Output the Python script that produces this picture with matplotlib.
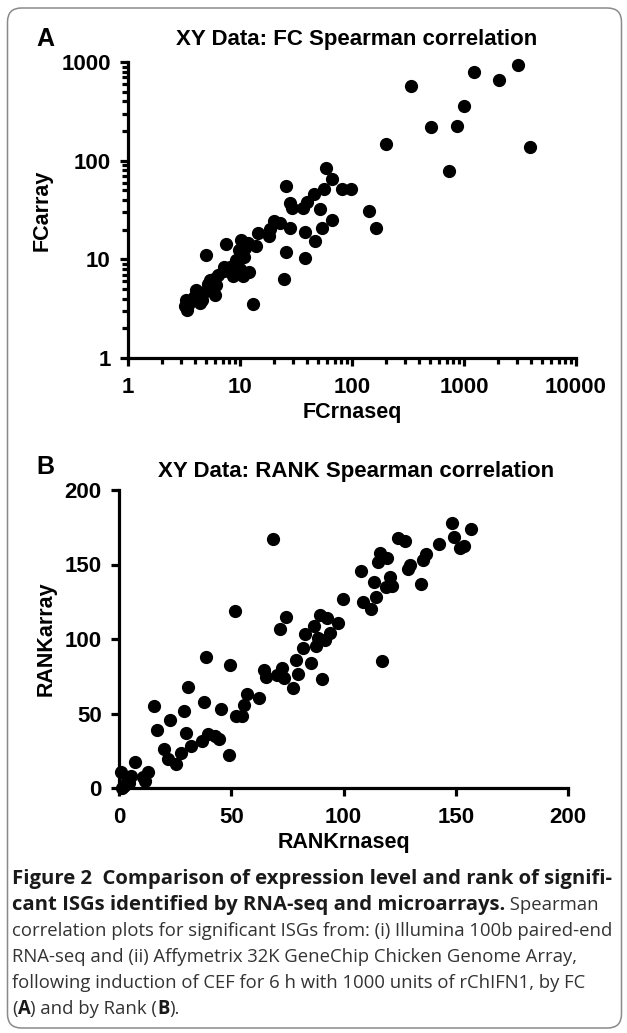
import matplotlib
matplotlib.use('Agg')
import matplotlib.pyplot as plt
from matplotlib.patches import FancyBboxPatch
from matplotlib.ticker import LogLocator, NullFormatter, FixedLocator

# ---------------- data ----------------
fc_rnaseq = [3035, 1228, 2061, 335, 1000, 510, 869, 201, 3919, 731, 141, 165, 81, 97,
             59, 65.8, 56, 46, 39.5, 36.7, 51.8, 65.8, 54.4, 37.9, 46.9, 37.9, 26, 28.2,
             29.1, 28.2, 22.8, 20.3, 18.4, 18, 14.6, 26, 24.5, 13, 7.56, 4.93, 10.3, 13.9,
             11.8, 9.7, 11.1, 10.8, 9.2, 10, 12, 10.7, 8.7, 7.2, 7.2, 6.36, 5.86, 5.4, 6.1,
             5.18, 6.0, 4.97, 4.05, 4.3, 4.57, 3.67, 4.38, 3.32, 3.21, 3.38, 3.4, 3.85, 9.3, 8.1]
fc_array = [940, 792, 662, 567, 356, 220, 223, 146, 136, 78, 30.6, 20.6, 51.6, 51.6,
            85, 65, 52, 45.9, 38.4, 32.9, 32.3, 25, 21, 19.1, 15.5, 10.4, 56, 36.9,
            32.9, 20.6, 23.5, 24.6, 20.2, 17.3, 18.4, 12, 6.3, 3.54, 14.3, 11, 15.7, 13.5,
            14.5, 12.5, 13, 10.6, 9.1, 7.94, 7.4, 6.7, 6.7, 7.7, 8.4, 6.96, 6.3, 6.2, 5.5,
            5.6, 4.37, 4.83, 4.9, 4.2, 3.89, 3.74, 3.61, 3.89, 3.33, 3.1, 3.46, 4.2, 9.8, 8.4]

rank_rnaseq = [148.3, 156.7, 149.4, 153.7, 151.9, 142.4, 124.2, 127.5, 136.7, 135.5, 129.6,
               128.7, 134.6, 116.2, 119.2, 115.3, 120.7, 118.9, 121.6, 113.5, 107.7, 114.4,
               108.7, 112.3, 99.6, 117.3, 97.5, 89.5, 92.7, 93.9, 91.6, 88.6, 86.8, 87.7,
               82.7, 81.8, 78.8, 85.5, 79.7, 77.6, 90.4, 74.3, 71.6, 68.6, 72.5, 73.4, 70.4,
               64.5, 65.4, 62.4, 56.9, 55.6, 54.7, 52.0, 51.7, 49.6, 45.5, 44.6, 42.8, 39.6,
               38.7, 37.8, 36.9, 48.8, 30.6, 28.9, 29.8, 31.9, 27.6, 25.6, 22.6, 20.0, 21.7,
               16.8, 15.7, 12.8, 11.4, 10.7, 7.1, 5.3, 3.6, 2.1, 0.7, 1.2, 4.3]
rank_array = [178, 173.6, 168.7, 162.5, 160.9, 163.8, 168, 166, 156.9, 153, 149.7,
              146.8, 137, 158, 154.2, 152, 141.9, 135.2, 135.6, 138.5, 145.9, 128,
              125.1, 120, 126.9, 84.9, 111, 116.2, 114, 103.9, 99, 100.6, 109, 95,
              103.5, 93.9, 86, 84.2, 76.6, 67, 73, 115, 106.8, 167, 80.4, 73.7, 76,
              79.3, 74.4, 60.1, 63.2, 55.9, 48, 48.5, 119.1, 82.7, 53, 32.8, 34.6, 36.4,
              87.8, 57.9, 31.7, 21.9, 67.7, 51.8, 36.9, 28.4, 23.5, 16.3, 45.8, 26.1, 19.7,
              39.1, 54.7, 10.5, 4.5, 7.4, 17.2, 7.8, 4.5, 1.1, 10.7, 0, 3.4]

ticks_A_x = [1, 10, 100, 1000, 10000]
ticks_A_y = [1, 10, 100, 1000]
ticks_B = [0, 50, 100, 150, 200]

title_A = "XY Data: FC Spearman correlation"
title_B = "XY Data: RANK Spearman correlation"

# ---------------- figure ----------------
W, H = 627, 1033
fig = plt.figure(figsize=(W / 100, H / 100), dpi=100)

def fx(px):
    return px / W

def fy(py):
    return 1 - py / H

bold_font = 'Liberation Sans'
LW = 2.3

# border
border = FancyBboxPatch((0.075, 0.05), 6.14, 10.20,
                        boxstyle="round,pad=0,rounding_size=0.14",
                        transform=fig.dpi_scale_trans, fill=False,
                        edgecolor='#8a8a8a', linewidth=1.1)
fig.patches.append(border)


def style_axes(ax):
    for s in ['top', 'right']:
        ax.spines[s].set_visible(False)
    for s in ['left', 'bottom']:
        ax.spines[s].set_linewidth(LW)
        ax.spines[s].set_capstyle('projecting')
    ax.tick_params(which='major', direction='out', length=5.5, width=LW,
                   labelsize=16)
    ax.tick_params(axis='x', which='major', pad=8)
    ax.tick_params(axis='y', which='major', pad=7)
    ax.tick_params(which='minor', direction='out', length=4.5, width=LW)
    for lab in ax.get_xticklabels() + ax.get_yticklabels():
        lab.set_fontfamily(bold_font)
        lab.set_fontweight('bold')


# ---- Panel A ----
axA = fig.add_axes([fx(128), fy(358), fx(576) - fx(128), fy(62) - fy(358)])
axA.set_xscale('log')
axA.set_yscale('log')
axA.set_xlim(1, 10000)
axA.set_ylim(1, 1000)
axA.plot(fc_rnaseq, fc_array, 'o', color='black', markersize=8.5, clip_on=False)
axA.xaxis.set_major_locator(FixedLocator(ticks_A_x))
axA.yaxis.set_major_locator(FixedLocator(ticks_A_y))
axA.set_xticklabels([str(t) for t in ticks_A_x])
axA.set_yticklabels([str(t) for t in ticks_A_y])
axA.xaxis.set_minor_locator(LogLocator(base=10, subs=range(2, 10), numticks=20))
axA.yaxis.set_minor_locator(LogLocator(base=10, subs=range(2, 10), numticks=20))
axA.xaxis.set_minor_formatter(NullFormatter())
axA.yaxis.set_minor_formatter(NullFormatter())
style_axes(axA)
axA.set_xlabel('FCrnaseq', fontfamily=bold_font, fontweight='bold', fontsize=15.5, labelpad=3)
axA.set_ylabel('FCarray', fontfamily=bold_font, fontweight='bold', fontsize=15.5, labelpad=6)

fig.text(fx(357), fy(39), title_A, ha='center', va='center',
         fontfamily=bold_font, fontweight='bold', fontsize=16)
fig.text(fx(36), fy(39), 'A', ha='left', va='center',
         fontfamily=bold_font, fontweight='bold', fontsize=18)

# ---- Panel B ----
axB = fig.add_axes([fx(119), fy(788), fx(568) - fx(119), fy(490) - fy(788)])
axB.set_xlim(0, 200)
axB.set_ylim(0, 200)
axB.plot(rank_rnaseq, rank_array, 'o', color='black', markersize=8.5, clip_on=False)
axB.xaxis.set_major_locator(FixedLocator(ticks_B))
axB.yaxis.set_major_locator(FixedLocator(ticks_B))
axB.set_xticklabels([str(t) for t in ticks_B])
axB.set_yticklabels([str(t) for t in ticks_B])
style_axes(axB)
axB.set_xlabel('RANKrnaseq', fontfamily=bold_font, fontweight='bold', fontsize=15.5, labelpad=3)
axB.set_ylabel('RANKarray', fontfamily=bold_font, fontweight='bold', fontsize=15.5, labelpad=6)

fig.text(fx(356), fy(472), title_B, ha='center', va='center',
         fontfamily=bold_font, fontweight='bold', fontsize=16)
fig.text(fx(36), fy(467), 'B', ha='left', va='center',
         fontfamily=bold_font, fontweight='bold', fontsize=18)

# ---------------- caption ----------------
cap_font = 'Open Sans'
renderer = fig.canvas.get_renderer()

def fit_size(text, weight, target):
    probe = fig.text(0, 0, text, fontfamily=cap_font, fontweight=weight, fontsize=12)
    w = probe.get_window_extent(renderer).width
    probe.remove()
    return 12 * target / w

lines = [
    [("Figure 2  Comparison of expression level and rank of signifi-", 'bold')],
    [("cant ISGs identified by RNA-seq and microarrays.", 'bold'), (" Spearman", 'normal')],
    [("correlation plots for significant ISGs from: (i) Illumina 100b paired-end", 'normal')],
    [("RNA-seq and (ii) Affymetrix 32K GeneChip Chicken Genome Array,", 'normal')],
    [("following induction of CEF for 6 h with 1000 units of rChIFN1, by FC", 'normal')],
    [("(", 'normal'), ("A", 'bold'), (") and by Rank (", 'normal'), ("B", 'bold'), (").", 'normal')],
]
sizes = {'normal': fit_size(lines[2][0][0], 'normal', 598),
         'bold': fit_size(lines[0][0][0], 'bold', 598)}
baselines = [884, 910, 936, 962, 988, 1014]

for i, (segs, yb) in enumerate(zip(lines, baselines)):
    xpix = 12
    for txt, wt in segs:
        col = '#1a1a1a' if wt == 'bold' else '#333333'
        fs = sizes[wt] if i < 2 else sizes['normal']
        t = fig.text(fx(xpix), fy(yb), txt, ha='left', va='baseline',
                     fontfamily=cap_font, fontweight=wt, fontsize=fs, color=col)
        xpix += t.get_window_extent(renderer).width

fig.savefig('out.png', dpi=100)
